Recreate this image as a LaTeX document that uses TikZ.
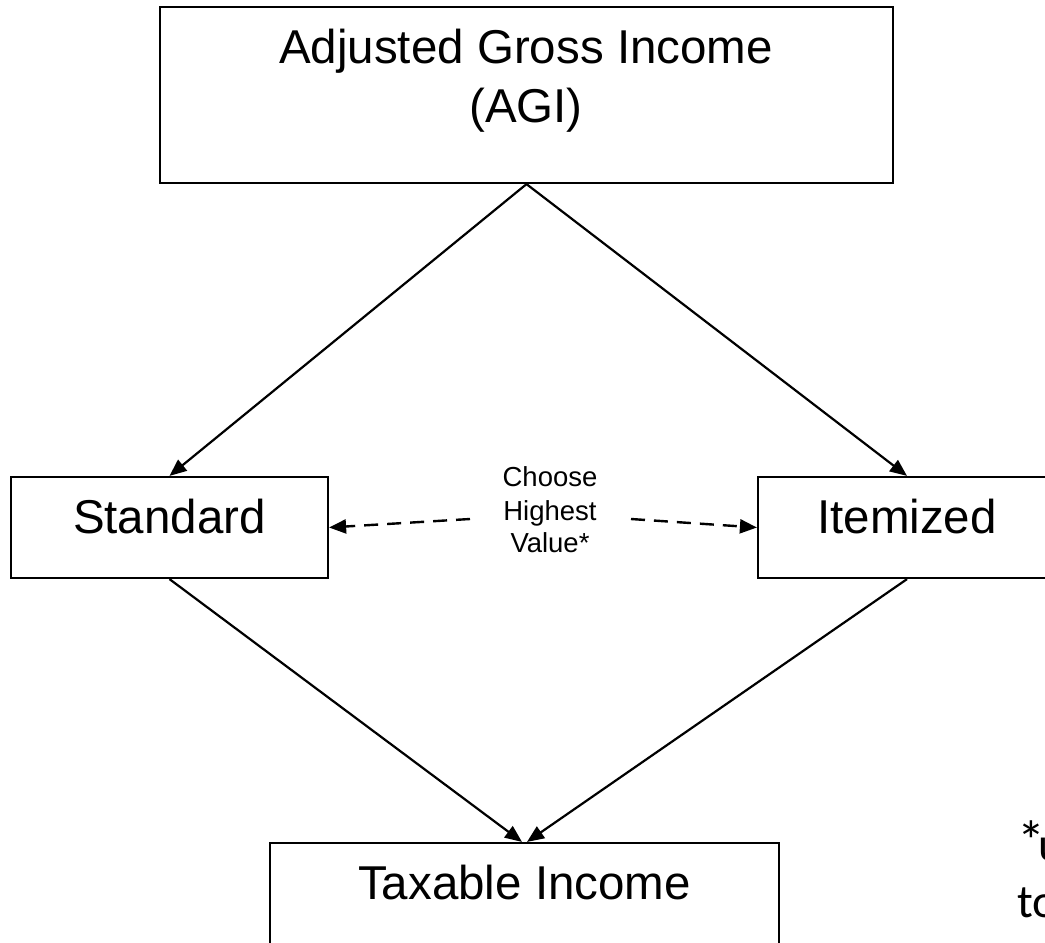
\documentclass[tikz,border=0pt]{standalone}
\usepackage{fontspec}
\setmainfont{Liberation Sans}
\newfontfamily\footfont{Carlito}
\usetikzlibrary{arrows.meta}
\begin{document}
\begin{tikzpicture}[x=1pt,y=-1pt,
  box/.style={draw=black,line width=2.2pt,inner sep=0pt,fill=white},
  big/.style={font=\fontsize{47.5}{56}\selectfont,inner sep=0pt},
  small/.style={font=\fontsize{27.5}{33}\selectfont,inner sep=0pt},
  foot/.style={font=\footfont\fontsize{47}{57}\selectfont,inner sep=0pt},
  conn/.style={line width=2.2pt,-{Triangle[length=17pt,width=14pt]}},
  dconn/.style={line width=2.4pt,dash pattern=on 14pt off 9pt,-{Triangle[length=17pt,width=14pt]}}]
\clip (0,0) rectangle (1045,943);
\fill[white] (0,0) rectangle (1045,943);
% boxes
\node[box,minimum width=733pt,minimum height=176pt] (agi) at (526.5,95) {};
\node[box,minimum width=317pt,minimum height=101pt] (std) at (169.5,527.5) {};
\node[box,minimum width=298pt,minimum height=101pt] (itm) at (907,527.5) {};
\node[box,minimum width=509pt,minimum height=160pt] (tax) at (524.5,923) {};
% texts
\node[big,anchor=base] (agia) at (526,63) {Adjusted Gross Income};
\node[big,anchor=base] (agib) at (526,122) {(AGI)};
\node[big,anchor=base] (stdt) at (169.5,533) {Standard};
\node[big,anchor=base] (itmt) at (907,533) {Itemized};
\node[big,anchor=base] (taxt) at (524.5,899) {Taxable Income};
\node[small,anchor=base] (cha) at (550,486) {Choose};
\node[small,anchor=base] (chb) at (550,520) {Highest};
\node[small,anchor=base] (chc) at (550,552) {Value*};
\node[foot,anchor=base west] (fta) at (1017,860) {{\fontsize{56}{56}\selectfont*}\kern-7pt u};
\node[foot,anchor=base west] (ftb) at (1017,917) {to};
% connectors
\draw[conn] (agi.south) -- (std.north);
\draw[conn] (agi.south) -- (itm.north);
\draw[conn] (std.south) -- ([xshift=-2.5pt]tax.north);
\draw[conn] (itm.south) -- ([xshift=2.5pt]tax.north);
\coordinate (dl) at (470,519);
\coordinate (dr) at (631,519);
\draw[dconn] (dl) -- (std.east);
\draw[dconn] (dr) -- (itm.west);
\end{tikzpicture}
\end{document}
